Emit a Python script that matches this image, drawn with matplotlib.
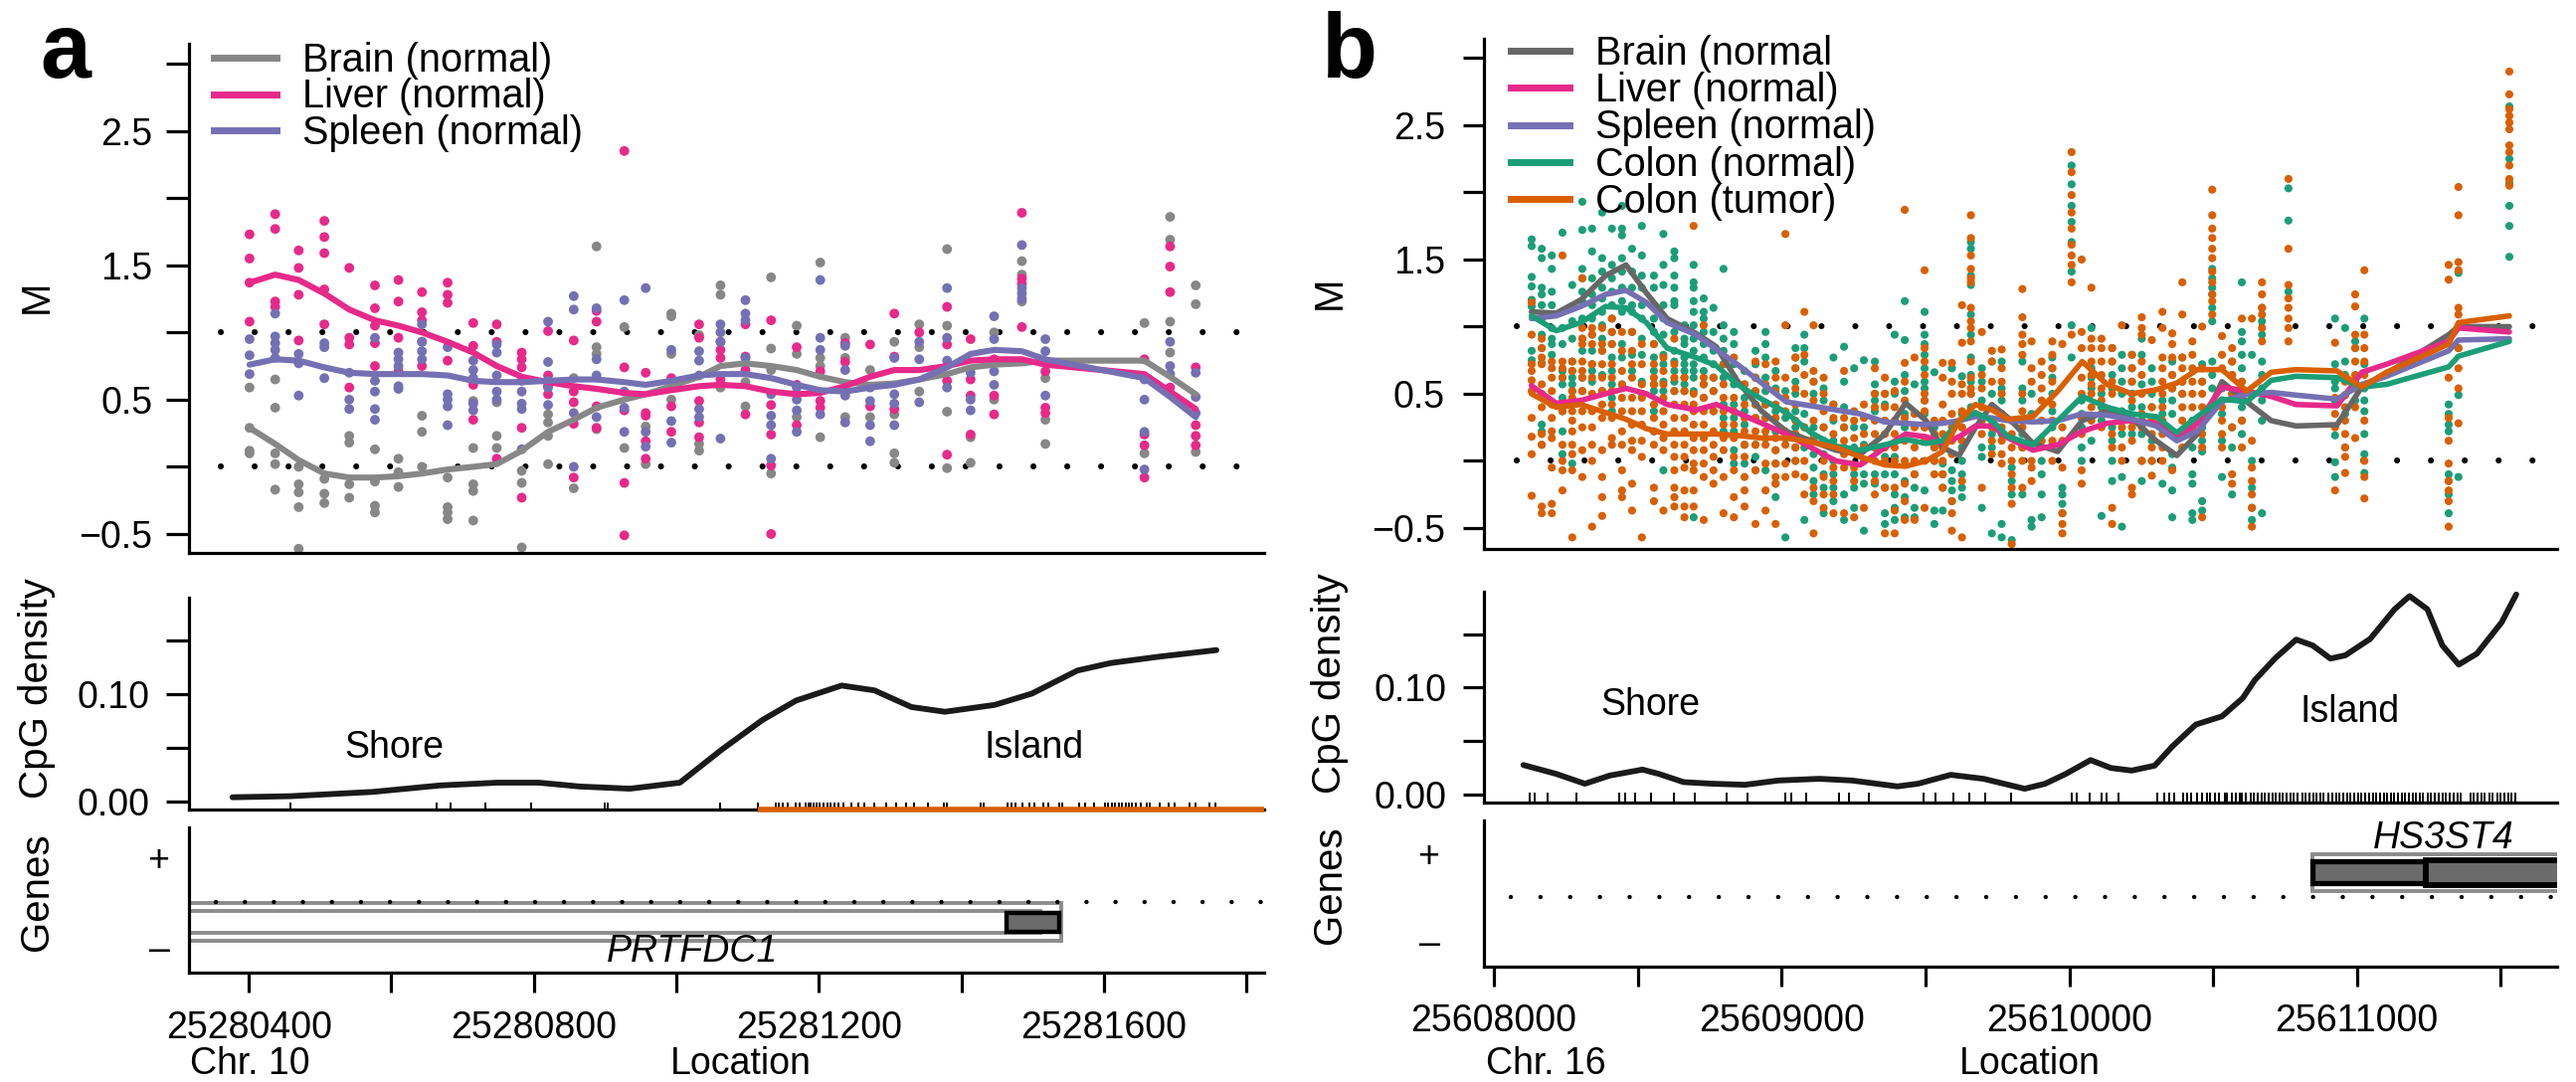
import numpy as np
import matplotlib
matplotlib.use('Agg')
import matplotlib.pyplot as plt
from matplotlib.patches import Rectangle
from matplotlib.lines import Line2D

plt.rcParams['font.family'] = ['Liberation Sans', 'DejaVu Sans']
plt.rcParams['lines.scale_dashes'] = False

# ---------------------------------------------------------------- data: panel a
A_XLIM = (25280316, 25281825)
POS_A = [25280401, 25280437, 25280470, 25280506, 25280541, 25280577, 25280610, 25280643,
         25280679, 25280715, 25280748, 25280783, 25280820, 25280856, 25280888, 25280927,
         25280957, 25280993, 25281032, 25281062, 25281097, 25281133, 25281169, 25281202,
         25281237, 25281272, 25281306, 25281341, 25281380, 25281413, 25281446, 25281485,
         25281518, 25281657, 25281693, 25281729]
LIVER_A = [[1.73, 1.55, 1.37, 1.08], [1.88, 1.77, 1.23, 1.19], [1.61, 1.48, 1.28, 0.94],
           [1.83, 1.71, 1.59, 1.32, 1.06], [1.48, 0.96, 0.91, 0.59], [1.35, 1.18, 1.05, 0.92, 0.75],
           [1.39, 1.23, 0.96, 0.71], [1.30, 1.15, 1.09, 0.75], [1.37, 1.28, 1.22, 0.79],
           [1.07, 0.90, 0.61, 0.35], [1.06, 0.93, 0.06], [0.85, 0.80, 0.74, 0.29, -0.23],
           [1.01, 0.68, 0.60, 0.54], [0.94, 0.56, 0.48, 0.32, -0.08], [1.16, 1.08, 0.45, 0.29],
           [2.35, 0.74, 0.42, -0.12, -0.51], [0.70, 0.40, 0.38, 0.19, 0.06], [0.66, 0.45, 0.26],
           [1.06, 0.96, 0.49, 0.33, 0.22], [0.93, 0.87, 0.81, 0.65], [1.06, 0.82, 0.72, 0.39],
           [1.09, 0.46, 0.24, 0.01, -0.50], [0.89, 0.61, 0.31], [0.71, 0.49, 0.44], [0.92, 0.78],
           [0.91, 0.45], [1.14, 0.82, 0.43], [1.00], [1.19, 0.91, 0.64, 0.09], [0.95, 0.65, 0.53, 0.24],
           [0.80, 0.53, 0.39], [1.89, 1.40, 1.36, 1.04], [0.71, 0.44, 0.40], [0.80, 0.24, 0.16, -0.08],
           [1.64, 1.49, 1.30, 0.59], [0.74, 0.31, 0.23, 0.16]]
SPLEEN_A = [[0.95, 0.83, 0.69], [1.14, 0.97, 0.92, 0.87, 0.81], [0.84, 0.77, 0.53], [0.92, 0.89, 0.66],
            [0.70, 0.50, 0.43], [0.96, 0.64, 0.56, 0.43, 0.35], [0.85, 0.80, 0.75, 0.60, 0.58],
            [1.06, 0.93, 0.86, 0.80], [0.89, 0.54, 0.50, 0.45, 0.31], [0.79, 0.72, 0.66, 0.47, 0.42],
            [0.91, 0.85, 0.68, 0.56, 0.50], [0.64, 0.56, 0.47, 0.43, 0.13], [1.08, 0.78, 0.64, 0.59, 0.46],
            [1.27, 1.17, 0.40, 0.00], [1.18, 0.80, 0.68, 0.37], [1.24, 0.56, 0.44, 0.26], [1.33, 0.26, 0.15],
            [0.87, 0.34, 0.18], [0.86, 0.79, 0.68, 0.43, 0.37], [1.06, 1.00, 0.93, 0.21], [1.24, 1.14, 1.09, 0.81],
            [0.54, 0.38, 0.31, 0.06], [0.59, 0.50, 0.42, 0.26], [1.39, 0.96, 0.87, 0.39], [0.90, 0.72, 0.53, 0.33],
            [0.59, 0.49, 0.31, 0.19], [0.81, 0.54, 0.47, 0.31], [0.93, 0.80, 0.48], [1.33, 0.96, 0.79, 0.59],
            [0.70, 0.50, 0.42], [1.12, 0.95, 0.71, 0.61], [1.65, 1.33, 1.29, 1.25], [0.95, 0.86, 0.53],
            [0.65, 0.50, 0.26, -0.02], [0.93, 0.75, 0.69], [0.70, 0.52, 0.40]]
BRAIN_A = [[0.59, 0.29, 0.12, 0.10], [0.65, 0.44, 0.10, 0.02, -0.17], [0.00, -0.13, -0.19, -0.30, -0.61],
           [-0.09, -0.20, -0.27], [0.23, 0.18, -0.13, -0.23], [0.13, -0.11, -0.29, -0.34], [0.06, -0.04, -0.15],
           [0.93, 0.38, 0.26, 0.00], [-0.08, -0.30, -0.34, -0.39], [0.49, 0.14, -0.13, -0.18, -0.40],
           [0.48, 0.23, 0.14], [-0.03, -0.12, -0.60], [0.39, 0.33, 0.23, 0.02], [0.66, -0.16],
           [1.64, 0.89, 0.84, 0.28], [1.04, 0.14], [0.30, 0.02], [1.14, 1.12, 0.84, 0.50], [0.98, 0.17, 0.12],
           [1.35, 1.28, 0.59], [0.63, 0.45], [1.41, 0.88, 0.72, -0.05], [1.05, 0.84, 0.37],
           [1.52, 0.81, 0.75, 0.22], [0.96, 0.81, 0.37], [0.72, 0.37], [0.93, 0.39, 0.10, 0.03],
           [1.06, 0.89, 0.56], [1.62, 1.05, 0.41, -0.01], [0.22, 0.03], [1.00, 0.50], [1.53, 1.43, 1.23],
           [0.66, 0.35, 0.17], [1.07, 0.10], [1.86, 1.69, 1.08, 0.85], [1.35, 1.21, 0.11]]
BRAIN_FIT_A = [0.29, 0.17, 0.05, -0.05, -0.08, -0.08, -0.07, -0.05, -0.02, 0.00, 0.02, 0.12, 0.26, 0.35,
               0.44, 0.50, 0.54, 0.60, 0.67, 0.75, 0.77, 0.75, 0.72, 0.67, 0.63, 0.61, 0.62, 0.65, 0.69,
               0.74, 0.76, 0.77, 0.79, 0.79, 0.67, 0.54]
LIVER_FIT_A = [1.37, 1.43, 1.39, 1.29, 1.17, 1.09, 1.05, 1.00, 0.93, 0.85, 0.75, 0.67, 0.63, 0.60, 0.58,
               0.55, 0.54, 0.57, 0.60, 0.61, 0.60, 0.56, 0.54, 0.55, 0.60, 0.67, 0.72, 0.72, 0.75, 0.79,
               0.80, 0.80, 0.76, 0.69, 0.56, 0.43]
SPLEEN_FIT_A = [0.76, 0.80, 0.79, 0.74, 0.70, 0.69, 0.69, 0.69, 0.68, 0.64, 0.63, 0.63, 0.64, 0.65, 0.65,
                0.63, 0.61, 0.64, 0.68, 0.69, 0.69, 0.66, 0.61, 0.57, 0.56, 0.59, 0.61, 0.65, 0.74, 0.84,
                0.87, 0.86, 0.80, 0.66, 0.52, 0.37]
CPG_CURVE_POS_A = [25280377, 25280458, 25280574, 25280668, 25280749, 25280807, 25280865, 25280935,
                   25281005, 25281063, 25281121, 25281168, 25281232, 25281278, 25281330, 25281377,
                   25281447, 25281499, 25281563, 25281610, 25281679, 25281758]
CPG_CURVE_A = [0.004, 0.005, 0.009, 0.015, 0.0176, 0.0176, 0.014, 0.012, 0.0176, 0.048, 0.076, 0.094,
               0.108, 0.1035, 0.088, 0.0836, 0.090, 0.1005, 0.122, 0.129, 0.135, 0.141]
CPG_SITES_A = [25280459, 25280664, 25280683, 25280732, 25280796, 25280899, 25280903, 25281062, 25281115,
               25281139, 25281144, 25281150, 25281156, 25281168, 25281173, 25281181, 25281185, 25281189,
               25281193, 25281197, 25281201, 25281206, 25281212, 25281217, 25281222, 25281227, 25281235,
               25281245, 25281255, 25281264, 25281278, 25281294, 25281308, 25281323, 25281333, 25281353,
               25281375, 25281380, 25281427, 25281431, 25281465, 25281471, 25281476, 25281486, 25281495,
               25281503, 25281515, 25281522, 25281537, 25281542, 25281565, 25281574, 25281586, 25281601,
               25281606, 25281611, 25281616, 25281621, 25281626, 25281631, 25281635, 25281640, 25281645,
               25281652, 25281660, 25281665, 25281678, 25281691, 25281699, 25281721, 25281729, 25281748,
               25281756]
ISLAND_START_A = 25281115
GENE_A = {'name': 'PRTFDC1', 'tx_end': 25281540, 'inner_end': 25281511, 'cds': (25281463, 25281538),
          'label_x': 25281022}
TICKS_A = [25280400, 25280600, 25280800, 25281000, 25281200, 25281400, 25281600, 25281800]
TICKLABELS_A = ['25280400', '', '25280800', '', '25281200', '', '25281600', '']

# ---------------------------------------------------------------- data: panel b
B0 = 25608000
B_XLIM = (25607965, 25611696)
POS_B_OFF = [131, 166, 201, 238, 272, 307, 341, 376, 410, 445, 480, 514, 556, 589, 627, 662, 694, 729,
             763, 798, 834, 871, 909, 944, 979, 1013,
             1048, 1079, 1111, 1146, 1180, 1217, 1252, 1286, 1324, 1359, 1393, 1428, 1462, 1497, 1531,
             1560, 1592, 1627, 1658, 1696, 1731, 1765, 1800, 1837, 1869, 1904,
             1941, 1976, 2008, 2043, 2077, 2112, 2149, 2183, 2218, 2252, 2287, 2324, 2358, 2393, 2428,
             2462, 2497, 2531, 2566, 2600, 2635, 2670, 2762,
             2924, 2959, 2994, 3026, 3319, 3353, 3530]
COLON_N_B = [
    [1.65, 1.6, 1.37, 1.3, 1.2, 1.15, 0.82, 0.75],
    [1.58, 1.51, 1.29, 1.24, 1.16, 1.06, 0.94, 0.84, 0.73, 0.27, 0.22, 0.12],
    [1.53, 1.43, 1.26, 1.16, 0.99, 0.91, 0.87, 0.79],
    [1.7, 1.11, 0.99, 0.87, 0.67, 0.62, 0.57, 0.47, 0.37, 0.22, 0.05],
    [1.31, 1.04, 0.91, 0.74, 0.67, 0.62, 0.57, 0.52, -0.02],
    [1.93, 1.72, 1.43, 1.36, 1.26, 1.19, 1.06, 0.91, 0.82, 0.62, 0.52],
    [1.73, 1.56, 1.36, 1.24, 1.16, 1.06, 0.94, 0.82, 0.72, 0.67, 0.59],
    [1.85, 1.51, 1.41, 1.29, 1.21, 1.11, 1.01, 0.91, 0.82, 0.64, 0.52],
    [1.73, 1.46, 1.36, 1.26, 1.16, 1.06, 0.96, 0.87, 0.77, 0.67, 0.57, 0.47, 0.37],
    [1.9, 1.73, 1.68, 1.51, 1.41, 1.29, 1.19, 1.11, 0.87, 0.77, 0.57],
    [1.58, 1.41, 1.29, 1.16, 1.11, 0.96, 0.79, 0.67],
    [1.75, 1.53, 1.38, 1.29, 1.16, 1.06, 0.91, 0.79, 0.59, 0.5],
    [1.38, 1.29, 1.16, 1.06, 0.96, 0.87, 0.77, 0.67, 0.57, 0.52, 0.37, 0.22],
    [1.69, 1.46, 1.31, 1.16, 1.06, 0.94, 0.79, 0.72, 0.59, 0.52, -0.07],
    [1.56, 1.51, 1.38, 1.29, 1.19, 1.16, 0.96, 0.82, 0.74, 0.67, 0.59, 0.52],
    [1.01, 0.91, 0.87, 0.77, 0.72, 0.67, 0.62, 0.57, 0.52],
    [1.46, 1.33, 1.29, 1.19, 1.11, 1.01, 0.91, 0.82, 0.72, 0.67, 0.62, 0.52, -0.42],
    [1.21, 1.11, 1.06, 0.96, 0.87, 0.77, 0.67, 0.57, 0.47],
    [1.14, 0.96, 0.82, 0.72, 0.62, 0.52, 0.37],
    [1.43, 1.01, 0.91, 0.82, 0.72, 0.62, 0.42, 0.32, 0.22],
    [0.96, 0.87, 0.72, 0.57, 0.42, 0.32, 0.22, 0.08, -0.02],
    [0.67, 0.57, 0.47, 0.37, 0.27, 0.12, -0.02],
    [0.82, 0.72, 0.62, 0.52, 0.42, 0.32, 0.12, 0.03, -0.07],
    [0.96, 0.87, 0.77, 0.62, 0.52, 0.42, 0.32, 0.17, -0.07],
    [0.67, 0.54, 0.37, 0.22, 0.08, -0.02, -0.17, -0.27],
    [0.52, 0.32, 0.17, -0.57],
    [0.84, 0.77, 0.69, 0.59, 0.5, 0.37, 0.25, 0.1, 0.0],
    [0.94, 0.84, 0.74, 0.35, 0.25, 0.1, -0.44],
    [0.59, 0.5, 0.25, 0.15, 0.05, -0.05, -0.15, -0.25],
    [0.54, 0.45, 0.25, 0.15, 0.05, -0.1, -0.2, -0.39],
    [0.77, 0.42, 0.3, 0.15, 0.0, -0.1, -0.2, -0.3],
    [0.85, 0.59, 0.4, 0.25, 0.1, -0.25, -0.44],
    [0.69, 0.25, 0.1, -0.1, -0.2, -0.35],
    [0.75, 0.25, 0.12, -0.1, -0.17, -0.52],
    [0.74, 0.57, 0.5, 0.45, 0.37, 0.1, -0.1, -0.17],
    [0.5, 0.42, 0.03, -0.1, -0.2, -0.39, -0.47],
    [0.94, 0.59, 0.5, 0.03, -0.1, -0.25, -0.35, -0.44],
    [1.19, 0.9, 0.64, 0.52, 0.35, 0.25, -0.15, -0.27, -0.42],
    [0.57, -0.1, -0.2, -0.35, -0.42],
    [1.11, 0.94, 0.87, 0.79, 0.69, 0.59, 0.54, 0.45, 0.35, 0.25, -0.22],
    [0.66, 0.25, 0.1, 0.0, -0.37, -0.47],
    [-0.02, -0.1, -0.2, -0.37],
    [0.69, -0.07, -0.15, -0.22, -0.3],
    [0.63, 0.35, 0.25, 0.1, 0.0, -0.1, -0.2, -0.27],
    [1.63, 1.58, 1.38, 1.31, 1.09, 0.94, 0.77, 0.64, 0.59, 0.5, 0.4],
    [0.69, 0.59, 0.45, 0.1, 0.03, -0.35],
    [0.74, 0.5, 0.3, 0.2, 0.1, -0.54],
    [0.74, 0.54, 0.45, 0.35, 0.2, -0.47, -0.57],
    [-0.05, -0.15, -0.25, -0.59],
    [0.74, 0.54, 0.45, 0.2, 0.1, -0.25],
    [0.5, 0.35, -0.44, -0.49],
    [0.0, -0.1, -0.25, -0.42],
    [0.77, 0.69, 0.62, 0.5, 0.37, 0.25, 0.12],
    [-0.2, -0.25, -0.32, -0.39],
    [2.2, 2.06, 1.9, 1.78, 1.63, 1.41, 1.01, 0.77],
    [0.45, 0.35, 0.25, 0.1, 0.0],
    [0.99, 0.69, 0.62, 0.54, 0.15],
    [0.5, 0.4, 0.3, -0.41],
    [0.84, 0.74, 0.64, 0.54, 0.25, 0.15, 0.0, -0.15],
    [0.79, 0.69, 0.59, 0.5, 0.37, 0.2, -0.12, -0.49],
    [0.79, 0.69, 0.59, 0.5, 0.4, 0.3, 0.2],
    [0.91, 0.79, 0.57, 0.4, 0.3, 0.2, 0.0, -0.15],
    [0.69, 0.59, 0.5, 0.4, 0.3, 0.15, 0.0],
    [0.45, 0.35, 0.25, -0.17],
    [0.74, 0.64, 0.54, 0.45, 0.35, 0.05, -0.05, -0.22, -0.42],
    [0.77, 0.59, 0.5],
    [0.3, 0.2, 0.1, -0.1, -0.17, -0.39, -0.44],
    [0.72, 0.59, 0.25, 0.15, 0.07, -0.3, -0.37],
    [1.43, 1.36, 1.29, 1.24, 1.14, 1.04, 0.74, 0.64, 0.54],
    [0.54, 0.45, 0.35, 0.15, -0.12],
    [0.74, 0.64, 0.5, 0.25, 0.1, -0.25],
    [1.33, 0.96, 0.89, 0.79, 0.69, 0.59, 0.5, 0.4, 0.3, 0.2],
    [0.79, 0.0, -0.2, -0.35, -0.44],
    [1.14, 1.04, 0.94, 0.74, 0.64, 0.54, 0.45, 0.3, -0.39],
    [2.03, 1.79, 1.26],
    [1.06, 0.72, 0.59, 0.54, 0.45, 0.19, -0.01, -0.12],
    [0.99, 0.74, 0.64, 0.49, 0.35, 0.1],
    [0.89, 0.84, 0.59, 0.45],
    [1.06, 0.72, 0.54, 0.45, 0.37, 0.2, 0.05, -0.09],
    [0.42, 0.35, 0.27, 0.22, -0.1, -0.15, -0.25, -0.39],
    [1.4, 0.84, 0.49, -0.12],
    [2.64, 2.25, 2.07, 1.9, 1.75, 1.52]]
COLON_T_B = [
    [1.18, 0.94, 0.72, 0.67, 0.6, 0.52, 0.32, 0.18, 0.05, -0.26],
    [0.91, 0.84, 0.77, 0.72, 0.57, 0.5, 0.4, 0.2, 0.12, -0.34, -0.39],
    [0.74, 0.69, 0.62, 0.52, 0.42, 0.32, 0.22, 0.17, -0.05, -0.32, -0.39],
    [1.53, 0.74, 0.69, 0.62, 0.42, 0.37, 0.12, 0.0, -0.07, -0.22],
    [0.74, 0.67, 0.52, 0.47, 0.37, 0.3, 0.22, 0.12, 0.05, -0.07, -0.57],
    [1.36, 0.99, 0.91, 0.87, 0.74, 0.67, 0.62, 0.52, 0.37, 0.25, 0.08, -0.12],
    [0.99, 0.94, 0.87, 0.72, 0.62, 0.5, 0.37, 0.25, 0.12, 0.0, -0.49],
    [0.99, 0.87, 0.82, 0.72, 0.62, 0.52, 0.42, 0.32, 0.08, -0.12, -0.27, -0.41],
    [1.06, 0.96, 0.87, 0.72, 0.62, 0.52, 0.42, 0.32, 0.17, 0.12],
    [0.96, 0.82, 0.67, 0.57, 0.47, 0.37, 0.22, 0.12, -0.07, -0.22, -0.27],
    [0.96, 0.82, 0.72, 0.62, 0.47, 0.37, 0.27, 0.15, 0.08, -0.17, -0.37],
    [0.87, 0.72, 0.57, 0.47, 0.37, 0.27, 0.15, 0.03, -0.57],
    [0.87, 0.72, 0.62, 0.57, 0.42, 0.32, 0.22, 0.12, -0.2, -0.3],
    [0.77, 0.67, 0.57, 0.47, 0.37, 0.27, 0.17, 0.08, -0.37],
    [0.91, 0.72, 0.62, 0.52, 0.42, 0.32, 0.22, 0.12, 0.03, -0.07, -0.2, -0.27, -0.34],
    [0.62, 0.52, 0.42, 0.32, 0.22, 0.12, 0.03, -0.05, -0.22, -0.34, -0.42],
    [1.75, 0.5, 0.42, 0.37, 0.27, 0.17, 0.08, -0.02, -0.07, -0.22, -0.34],
    [1.01, 0.62, 0.57, 0.47, 0.37, 0.27, 0.17, 0.08, -0.02, -0.12, -0.44],
    [0.62, 0.52, 0.37, 0.22, 0.12, 0.03, -0.07, -0.17],
    [0.72, 0.57, 0.47, 0.37, 0.27, 0.17, 0.08, -0.12, -0.39],
    [0.77, 0.62, 0.47, 0.37, 0.27, 0.17, 0.03, -0.07, -0.27, -0.42],
    [0.57, 0.42, 0.32, 0.22, 0.12, 0.03, -0.12, -0.22, -0.34],
    [0.74, 0.62, 0.52, 0.42, 0.32, 0.22, 0.12, -0.07, -0.47],
    [0.72, 0.57, 0.42, 0.32, 0.22, 0.12, -0.02, -0.22, -0.37],
    [0.74, 0.62, 0.52, 0.42, 0.32, 0.17, 0.08, -0.02, -0.12, -0.17, -0.47],
    [1.69, 1.01, 0.62, 0.47, 0.37, 0.22, 0.12, -0.02, -0.12],
    [0.77, 0.69, 0.54, 0.42, 0.3, 0.2, 0.1, 0.0, -0.1],
    [1.11, 0.79, 0.64, 0.5, 0.25, 0.0, -0.12, -0.25],
    [1.01, 0.67, 0.59, 0.45, 0.3, 0.17, -0.2, -0.3, -0.54],
    [0.62, 0.5, 0.37, 0.25, 0.0, -0.12, -0.25, -0.35],
    [0.42, 0.32, 0.2, 0.1, -0.05, -0.15, -0.25, -0.39],
    [0.67, 0.32, 0.25, 0.15, 0.05, -0.05, -0.39],
    [0.37, 0.3, 0.17, 0.07, -0.05, -0.15, -0.42],
    [0.42, 0.32, 0.2, 0.1, 0.0, -0.35],
    [0.69, 0.5, 0.4, 0.3, 0.2, 0.1, 0.0, -0.15, -0.25],
    [0.62, 0.5, 0.4, 0.3, 0.2, 0.1, 0.0, -0.2, -0.54],
    [0.52, 0.4, 0.3, 0.2, 0.1, 0.0, -0.2, -0.37, -0.54],
    [1.87, 0.73, 0.59, 0.45, 0.32, 0.15, 0.0, -0.17, -0.3, -0.44],
    [0.77, 0.35, 0.25, 0.1, 0.0, -0.1, -0.44],
    [1.42, 0.84, 0.74, 0.64, 0.5, 0.45, 0.37, 0.25, 0.15, 0.0, -0.35],
    [0.3, 0.2, 0.1, 0.0, -0.1],
    [0.73, 0.62, 0.42, 0.3, 0.2, 0.1, 0.0, -0.1, -0.2],
    [0.73, 0.59, 0.5, 0.35, 0.25, 0.15, 0.05, -0.3, -0.39, -0.52],
    [1.16, 0.88, 0.57, 0.5, 0.37, 0.25, 0.15, -0.15, -0.57],
    [1.83, 1.66, 1.53, 1.43, 1.36, 1.33, 1.14, 1.04, 0.99, 0.89, 0.74, 0.62, 0.54, 0.5],
    [0.96, 0.64, 0.54, 0.4, 0.3, 0.2, -0.2],
    [0.82, 0.74, 0.59, 0.4, 0.25, 0.15, 0.05],
    [0.83, 0.69, 0.59, 0.5, 0.35, 0.25, 0.15, 0.05, -0.02],
    [0.3, 0.2, 0.1, 0.0, -0.1, -0.2, -0.32, -0.62],
    [1.28, 1.07, 0.94, 0.87, 0.79, 0.5, 0.37, 0.25, 0.1, 0.0, -0.2],
    [0.89, 0.69, 0.59, 0.0, -0.05, -0.15],
    [0.74, 0.64, 0.54, 0.45, 0.3, 0.15],
    [0.89, 0.79, 0.69, 0.59, 0.42, 0.3, 0.15, 0.0],
    [0.87, 0.25, 0.15, -0.05, -0.39, -0.47, -0.54],
    [2.3, 2.15, 1.98, 1.85, 1.73, 1.61, 1.53, 1.46, 1.33, 0.94],
    [1.5, 0.96, 0.84, 0.62, 0.5, 0.32, 0.2, -0.07, -0.17],
    [1.29, 0.91, 0.84, 0.74, 0.64, 0.57, 0.5, 0.4, 0.3],
    [0.91, 0.84, 0.74, 0.64, 0.54, 0.45, 0.35, 0.25],
    [0.84, 0.74, 0.59, 0.5, 0.35, 0.2, 0.1, -0.35, -0.47],
    [1.01, 0.35, 0.25, 0.1, 0.0],
    [0.79, 0.69, 0.59, 0.45, 0.25, 0.15, -0.2, -0.25],
    [1.07, 0.99, 0.94, 0.74, 0.64, 0.5, 0.35, 0.25, 0.0],
    [0.9, 0.4, 0.3, 0.2, 0.1, 0.0, -0.11],
    [1.11, 0.99, 0.77, 0.69, 0.59, 0.5, 0.4, 0.3, 0.2, 0.1, 0.0],
    [0.95, 0.87, 0.77, 0.64, 0.54, -0.07],
    [1.33, 1.09, 0.77, 0.69, 0.59, 0.5, 0.4, 0.3, 0.2, 0.1],
    [0.89, 0.79, 0.69, 0.59, 0.5, 0.4, 0.25],
    [1.0, 0.69, 0.59, 0.5, 0.4, 0.3, 0.2, 0.1, -0.42],
    [2.02, 1.83, 1.73, 1.66, 1.58, 1.51, 1.41, 1.33, 1.24, 1.19, 1.09],
    [0.93, 0.79, 0.69, 0.4, 0.3, 0.2, 0.1],
    [0.84, 0.74, 0.64, 0.5, 0.25, -0.1, -0.17],
    [1.06, 0.59, 0.5, 0.3, 0.1],
    [1.06, 0.15, -0.05, -0.15, -0.25, -0.35, -0.49],
    [1.33, 1.24, 1.14, 1.09, 0.99, 0.89],
    [2.1, 1.58, 1.31, 1.21, 1.14, 1.06, 0.99, 0.89],
    [0.88, 0.47, 0.35, 0.25, -0.22],
    [0.59, 0.49, 0.4, 0.3, 0.2, 0.1, 0.03, -0.09],
    [1.24, 1.15, 0.94, 0.84, 0.74, 0.64, 0.54, 0.4, 0.17],
    [1.42, 0.94, 0.84, 0.74, 0.64, 0.3, 0.0, -0.12, -0.28],
    [1.46, 1.35, 0.62, 0.32, 0.15, -0.02, -0.15, -0.22, -0.3, -0.49],
    [2.04, 1.83, 1.48, 1.42, 1.14, 1.09, 0.84, 0.69, 0.54, 0.28],
    [2.9, 2.73, 2.62, 2.57, 2.52, 2.47, 2.35, 2.3, 2.2, 2.1, 2.05]]
FIT_POS_B_OFF = [130, 216, 302, 388, 459, 530, 602, 702, 773, 845, 931, 1016, 1102, 1188, 1274, 1359,
                 1431, 1502, 1559, 1617, 1674, 1731, 1788, 1874, 1960, 2045, 2131, 2217, 2302, 2374,
                 2445, 2531, 2617, 2702, 2788, 2931, 3017, 3103, 3319, 3353, 3530]
BRAIN_FIT_B = [1.11, 1.1, 1.2, 1.38, 1.46, 1.25, 1.06, 0.95, 0.85, 0.6, 0.37, 0.22, 0.15, 0.08, 0.05, 0.2,
               0.43, 0.3, 0.1, 0.04, 0.25, 0.42, 0.32, 0.13, 0.07, 0.3, 0.37, 0.32, 0.15, 0.04, 0.2, 0.59,
               0.44, 0.3, 0.26, 0.27, 0.55, 0.65, 0.94, 1.0, 1.0]
LIVER_FIT_B = [0.56, 0.43, 0.45, 0.5, 0.54, 0.5, 0.42, 0.38, 0.42, 0.36, 0.28, 0.2, 0.1, 0.0, -0.03, 0.1,
               0.2, 0.18, 0.13, 0.18, 0.26, 0.26, 0.17, 0.08, 0.12, 0.22, 0.28, 0.3, 0.28, 0.17, 0.28, 0.55,
               0.52, 0.48, 0.42, 0.41, 0.66, 0.72, 0.89, 0.99, 0.96]
SPLEEN_FIT_B = [1.06, 1.08, 1.15, 1.24, 1.27, 1.18, 1.03, 0.94, 0.83, 0.72, 0.58, 0.44, 0.41, 0.38, 0.35,
                0.29, 0.28, 0.27, 0.28, 0.3, 0.33, 0.32, 0.3, 0.29, 0.3, 0.35, 0.34, 0.31, 0.26, 0.15, 0.22,
                0.445, 0.495, 0.51, 0.49, 0.46, 0.57, 0.63, 0.82, 0.9, 0.91]
COLON_N_FIT_B = [1.08, 0.97, 1.03, 1.15, 1.14, 1.03, 0.84, 0.77, 0.71, 0.57, 0.46, 0.36, 0.21, 0.11, 0.08,
                 0.12, 0.16, 0.13, 0.15, 0.3, 0.36, 0.3, 0.18, 0.12, 0.3, 0.48, 0.4, 0.35, 0.33, 0.21, 0.33,
                 0.46, 0.44, 0.6, 0.63, 0.62, 0.55, 0.57, 0.7, 0.78, 0.89]
COLON_T_FIT_B = [0.5, 0.4, 0.42, 0.36, 0.31, 0.24, 0.2, 0.2, 0.2, 0.19, 0.17, 0.17, 0.14, 0.1, 0.03, -0.03,
                 -0.04, 0.0, 0.07, 0.3, 0.42, 0.38, 0.31, 0.33, 0.52, 0.74, 0.57, 0.5, 0.53, 0.58, 0.68,
                 0.68, 0.52, 0.66, 0.68, 0.67, 0.55, 0.66, 0.87, 1.03, 1.08]
CPG_CURVE_POS_B_OFF = [102, 216, 316, 402, 516, 573, 659, 759, 873, 988, 1131, 1245, 1402, 1474, 1588,
                       1702, 1845, 1916, 1988, 2074, 2145, 2217, 2297, 2360, 2440, 2531, 2603, 2645, 2717,
                       2789, 2846, 2908, 2960, 3046, 3131, 3183, 3245, 3297, 3354, 3417, 3503, 3554]
CPG_CURVE_B = [0.0277, 0.0194, 0.0102, 0.0178, 0.0234, 0.0194, 0.0117, 0.0102, 0.0092, 0.0132, 0.0148,
               0.0132, 0.0077, 0.0102, 0.0185, 0.0148, 0.0055, 0.0102, 0.0194, 0.0323, 0.0249, 0.0225,
               0.0271, 0.0455, 0.0655, 0.0732, 0.0902, 0.107, 0.1277, 0.1449, 0.1394, 0.1271, 0.1302,
               0.1455, 0.1732, 0.1855, 0.1732, 0.1394, 0.1215, 0.1317, 0.1609, 0.1871]
CPG_SITES_B_OFF = [124, 143, 187, 285, 436, 456, 490, 546, 624, 697, 807, 882, 1012, 1034, 1087, 1200,
                   1234, 1304, 1492, 1534, 1597, 1651, 1709, 1799, 2009, 2026, 2070, 2114, 2131, 2170,
                   2307, 2330, 2348, 2365, 2395, 2410, 2425, 2445, 2462, 2478, 2490, 2505, 2522, 2540,
                   2548, 2566, 2580, 2592, 2601, 2615, 2630, 2641, 2655, 2668, 2680, 2692, 2706, 2718,
                   2730, 2741, 2755, 2770, 2781, 2795, 2810, 2822, 2836, 2848, 2860, 2872, 2885, 2900,
                   2915, 2929, 2940, 2951, 2965, 2978, 2990, 3004, 3016, 3030, 3042, 3055, 3068, 3080,
                   3093, 3106, 3119, 3130, 3142, 3155, 3168, 3180, 3194, 3206, 3218, 3230, 3245, 3258,
                   3270, 3285, 3298, 3310, 3322, 3336, 3350, 3360, 3394, 3406, 3420, 3432, 3445, 3460,
                   3472, 3487, 3500, 3512, 3525, 3538, 3552]
GENE_B = {'name': 'HS3ST4', 'start': 25610846, 'thick_start': 25611240, 'label_x': 25611302}
TICKS_B = [25608000, 25608500, 25609000, 25609500, 25610000, 25610500, 25611000, 25611500]
TICKLABELS_B = ['25608000', '', '25609000', '', '25610000', '', '25611000', '']

LABELS_A = ['Brain (normal)', 'Liver (normal)', 'Spleen (normal)']
LABELS_B = ['Brain (normal', 'Liver (normal)', 'Spleen (normal)', 'Colon (normal)', 'Colon (tumor)']

# ---------------------------------------------------------------- style
C_BRAIN_A = '#878787'
C_BRAIN_B = '#676767'
C_LIVER = '#E7298A'
C_SPLEEN = '#7570B3'
C_COLN = '#1B9E77'
C_COLT = '#D95F02'
FS = 27
FS_LEG = 28.5
LW_AX = 2.3

W, H = 2590, 1088
fig = plt.figure(figsize=(W / 100, H / 100), dpi=100)


def ax_px(l, t, r, b):
    return fig.add_axes([l / W, 1 - b / H, (r - l) / W, (b - t) / H])


def style(ax):
    for s in ('top', 'right'):
        ax.spines[s].set_visible(False)
    for s in ('left', 'bottom'):
        ax.spines[s].set_linewidth(LW_AX)
    ax.tick_params(labelsize=FS, width=LW_AX, length=16.5, pad=10)


def flat(pos, groups):
    xs = np.repeat(np.asarray(pos, float), [len(g) for g in groups])
    ys = np.concatenate([np.asarray(g, float) for g in groups])
    return xs, ys


def dotted(ax, x0, x1, y, lw, gap, z=1):
    ax.plot([x0, x1], [y, y], color='black', lw=lw, linestyle=(0, (0.01, gap)),
            dash_capstyle='round', zorder=z)


# ================================================================ panel a
axM = ax_px(190, 44, 1271, 556)
style(axM)
axM.set_xlim(*A_XLIM)
axM.set_ylim(-0.641, 3.148)
axM.set_yticks([-0.5, 0, 0.5, 1, 1.5, 2, 2.5, 3])
axM.set_yticklabels(['\u22120.5', '', '0.5', '', '1.5', '', '2.5', ''])
axM.set_xticks([])
dotted(axM, 25280360, 25281796, 0, 4.4, 24.5)
dotted(axM, 25280360, 25281796, 1, 4.4, 24.5)
for groups, c in ((BRAIN_A, C_BRAIN_A), (LIVER_A, C_LIVER), (SPLEEN_A, C_SPLEEN)):
    xs, ys = flat(POS_A, groups)
    axM.scatter(xs, ys, s=50, color=c, edgecolors='none', zorder=2)
for fit, c in ((BRAIN_FIT_A, C_BRAIN_A), (LIVER_FIT_A, C_LIVER), (SPLEEN_FIT_A, C_SPLEEN)):
    axM.plot(POS_A, fit, color=c, lw=4.4, solid_capstyle='round', solid_joinstyle='round', zorder=3)
axM.text(-0.1415, 0.504, 'M', transform=axM.transAxes, rotation=90, ha='center', va='center', fontsize=29)
handles = [Line2D([], [], color=c, lw=5) for c in (C_BRAIN_A, C_LIVER, C_SPLEEN)]
axM.legend(handles, LABELS_A, loc='upper left', bbox_to_anchor=(215 / W, 1 - 42 / H),
           bbox_transform=fig.transFigure, frameon=False, fontsize=FS_LEG, handlelength=1.6,
           handletextpad=0.65, labelspacing=-0.04, borderpad=0, borderaxespad=0)

axC = ax_px(190, 601, 1271, 814)
style(axC)
axC.set_xlim(*A_XLIM)
axC.set_ylim(-0.0074, 0.1898)
axC.set_yticks([0, 0.05, 0.10, 0.15])
axC.set_yticklabels(['0.00', '', '0.10', ''])
axC.set_xticks([])
axC.tick_params(axis='y', pad=12)
axC.plot(CPG_CURVE_POS_A, CPG_CURVE_A, color='#1a1a1a', lw=4.2, solid_capstyle='round',
         solid_joinstyle='round')
axC.vlines(CPG_SITES_A, 0, 0.035, transform=axC.get_xaxis_transform(), color='black', lw=1.4)
axC.plot([ISLAND_START_A, A_XLIM[1]], [0, 0], transform=axC.get_xaxis_transform(), color=C_COLT,
         lw=4.0, solid_capstyle='butt', clip_on=False, zorder=4)
axC.text(25280604, 0.05, 'Shore', fontsize=FS, ha='center', va='center')
axC.text(25281502, 0.05, 'Island', fontsize=FS, ha='center', va='center')
axC.text(-0.1415, 0.573, 'CpG density', transform=axC.transAxes, rotation=90, ha='center',
         va='center', fontsize=29)

axG = ax_px(190, 832, 1271, 978)
style(axG)
axG.set_xlim(*A_XLIM)
axG.set_ylim(-1.578, 1.667)
axG.set_yticks([1, -1])
axG.set_yticklabels(['+', '\u2013'])
axG.tick_params(axis='y', length=0, pad=14)
axG.set_xticks(TICKS_A)
axG.set_xticklabels(TICKLABELS_A)
axG.tick_params(axis='x', length=14.4, pad=13)
left = A_XLIM[0] - 300
axG.add_patch(Rectangle((left, -0.86), GENE_A['tx_end'] - left, 0.83, facecolor='white',
                        edgecolor='#8c8c8c', lw=2.8, zorder=2))
axG.add_patch(Rectangle((left, -0.69), GENE_A['inner_end'] - left, 0.49, facecolor='none',
                        edgecolor='#8c8c8c', lw=2.8, zorder=2))
c0, c1 = GENE_A['cds']
axG.add_patch(Rectangle((c0, -0.66), c1 - c0, 0.42, facecolor='#6b6b6b', edgecolor='black',
                        lw=3.2, zorder=3))
dotted(axG, 25280354, A_XLIM[1], 0, 3.2, 21, z=4)
axG.text(GENE_A['label_x'], -1.12, GENE_A['name'], fontsize=FS, style='italic', ha='center',
         va='center')
axG.text(-0.1415, 0.56, 'Genes', transform=axG.transAxes, rotation=90, ha='center', va='center',
         fontsize=29)
trA = axG.get_xaxis_transform()
axG.text(25280401, -0.63, 'Chr. 10', transform=trA, fontsize=FS, ha='center', va='center')
axG.text(25281090, -0.63, 'Location', transform=trA, fontsize=FS, ha='center', va='center')

# ================================================================ panel b
posB = B0 + np.array(POS_B_OFF)
fitB = B0 + np.array(FIT_POS_B_OFF)
bxM = ax_px(1492, 39, 2571, 552)
style(bxM)
bxM.set_xlim(*B_XLIM)
bxM.set_ylim(-0.656, 3.144)
bxM.set_yticks([-0.5, 0, 0.5, 1, 1.5, 2, 2.5, 3])
bxM.set_yticklabels(['\u22120.5', '', '0.5', '', '1.5', '', '2.5', ''])
bxM.tick_params(axis='y', length=15, pad=13)
bxM.set_xticks([])
dotted(bxM, 25608080, 25611631, 0, 4.4, 24.5)
dotted(bxM, 25608080, 25611631, 1, 4.4, 24.5)
for groups, c in ((COLON_N_B, C_COLN), (COLON_T_B, C_COLT)):
    xs, ys = flat(posB, groups)
    bxM.scatter(xs, ys, s=34, color=c, edgecolors='none', zorder=2)
for fit, c in ((BRAIN_FIT_B, C_BRAIN_B), (LIVER_FIT_B, C_LIVER), (SPLEEN_FIT_B, C_SPLEEN),
               (COLON_N_FIT_B, C_COLN), (COLON_T_FIT_B, C_COLT)):
    bxM.plot(fitB, fit, color=c, lw=4.0, solid_capstyle='round', solid_joinstyle='round', zorder=3)
bxM.text(-0.1437, 0.503, 'M', transform=bxM.transAxes, rotation=90, ha='center', va='center', fontsize=29)
handles = [Line2D([], [], color=c, lw=5) for c in (C_BRAIN_B, C_LIVER, C_SPLEEN, C_COLN, C_COLT)]
bxM.legend(handles, LABELS_B, loc='upper left', bbox_to_anchor=(1519 / W, 1 - 35 / H),
           bbox_transform=fig.transFigure, frameon=False, fontsize=FS_LEG, handlelength=1.5,
           handletextpad=0.65, labelspacing=-0.02, borderpad=0, borderaxespad=0)

bxC = ax_px(1492, 595, 2571, 807)
style(bxC)
bxC.set_xlim(*B_XLIM)
bxC.set_ylim(-0.0074, 0.1896)
bxC.set_yticks([0, 0.05, 0.10, 0.15])
bxC.set_yticklabels(['0.00', '', '0.10', ''])
bxC.tick_params(axis='y', length=15, pad=12)
bxC.set_xticks([])
bxC.plot(B0 + np.array(CPG_CURVE_POS_B_OFF), CPG_CURVE_B, color='#1a1a1a', lw=4.2,
         solid_capstyle='round', solid_joinstyle='round')
bxC.vlines(B0 + np.array(CPG_SITES_B_OFF), 0, 0.045, transform=bxC.get_xaxis_transform(),
           color='black', lw=1.4)
bxC.text(25608545, 0.084, 'Shore', fontsize=FS, ha='center', va='center')
bxC.text(25610974, 0.077, 'Island', fontsize=FS, ha='center', va='center')
bxC.text(-0.1437, 0.566, 'CpG density', transform=bxC.transAxes, rotation=90, ha='center',
         va='center', fontsize=29)

bxG = ax_px(1492, 825, 2571, 972)
style(bxG)
bxG.set_xlim(*B_XLIM)
bxG.set_ylim(-1.59, 1.75)
bxG.set_yticks([1, -1])
bxG.set_yticklabels(['+', '\u2013'])
bxG.tick_params(axis='y', length=0, pad=32)
bxG.set_xticks(TICKS_B)
bxG.set_xticklabels(TICKLABELS_B)
bxG.tick_params(axis='x', length=14.4, pad=12)
g0 = GENE_B['start']
right = B_XLIM[1] + 400
bxG.add_patch(Rectangle((g0, 0.13), right - g0, 0.85, facecolor='white', edgecolor='#8c8c8c',
                        lw=2.8, zorder=2))
bxG.add_patch(Rectangle((g0, 0.32), right - g0, 0.49, facecolor='#6b6b6b', edgecolor='black',
                        lw=3.8, zorder=3))
bxG.add_patch(Rectangle((GENE_B['thick_start'], 0.28), right - GENE_B['thick_start'], 0.57,
                        facecolor='#6b6b6b', edgecolor='black', lw=4.2, zorder=3))
dotted(bxG, 25608059, B_XLIM[1], 0, 3.2, 21.5, z=4)
bxG.text(GENE_B['label_x'], 1.34, GENE_B['name'], fontsize=FS, style='italic', ha='center',
         va='center')
bxG.text(-0.1437, 0.558, 'Genes', transform=bxG.transAxes, rotation=90, ha='center', va='center',
         fontsize=29)
trB = bxG.get_xaxis_transform()
bxG.text(25608180, -0.67, 'Chr. 16', transform=trB, fontsize=FS, ha='center', va='center')
bxG.text(25609864, -0.67, 'Location', transform=trB, fontsize=FS, ha='center', va='center')

# panel letters
fig.text(40 / W, 1 - 78 / H, 'a', fontsize=66, fontweight='bold', ha='left', va='baseline',
         family=['Liberation Sans Narrow', 'Liberation Sans'])
fig.text(1329 / W, 1 - 78 / H, 'b', fontsize=66, fontweight='bold', ha='left', va='baseline',
         family=['Liberation Sans Narrow', 'Liberation Sans'])

fig.savefig('out.png', dpi=100)
